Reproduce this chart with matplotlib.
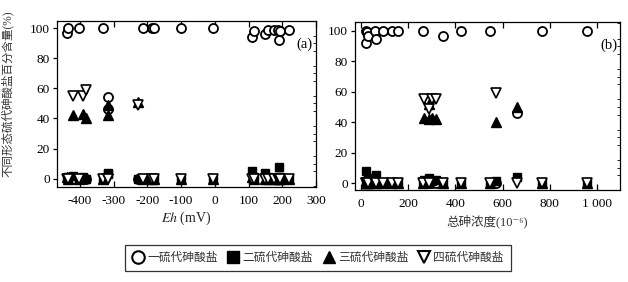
import matplotlib.pyplot as plt
import numpy as np
from matplotlib.ticker import MultipleLocator, FixedLocator

plt.rcParams['font.family'] = ['Liberation Serif', 'Noto Sans CJK SC', 'DejaVu Serif']
plt.rcParams['mathtext.fontset'] = 'stix'
plt.rcParams['axes.unicode_minus'] = False

names = ['一硫代砷酸盐', '二硫代砷酸盐', '三硫代砷酸盐', '四硫代砷酸盐']

# (a) Eh (mV) and species percentage per sample
eh = np.array([-437, -435, -420, -403, -391, -382, -332, -318, -316, -229,
               -214, -187, -181, -99, -5, 111, 116, 149, 158, 176, 188, 191, 193, 220])
eh_mono = np.array([97, 100, 0, 100, 0, 0, 100, 54, 46, 0,
                    100, 100, 100, 100, 100, 94, 98, 96, 99, 99, 99, 92, 98, 99])
eh_di = np.array([1, 0, 2, 0, 1, 0, 0, 3, 4, 0,
                  0, 0, 0, 0, 0, 5, 1, 3.5, 1, 0, 1, 8, 1, 0])
eh_tri = np.array([1, 0, 42, 0, 43, 40, 0, 42, 49, 51,
                   0, 0, 0, 0, 0, 1, 0, 0, 0, 0, 0, 0, 0, 0])
eh_tetra = np.array([0, 0, 55, 0, 55, 59, 0, 0, 0, 49,
                     0, 0, 0, 0, 0, 0, 0, 0, 0, 0, 0, 0, 0, 0])

# (b) total arsenic (10^-6) and species percentage per sample
tas = np.array([21, 22, 26, 28, 59, 64, 94, 131, 158, 265, 268, 288, 290, 300, 316,
                349, 424, 547, 572, 661, 765, 958])
tas_mono = np.array([92, 100, 99, 97, 100, 95, 100, 100, 100, 100, 0, 54, 0, 0, 0,
                     97, 100, 100, 0, 46, 100, 100])
tas_di = np.array([8, 0, 1, 3, 0, 5, 0, 0, 0, 0, 2, 3, 0, 1, 2,
                   0, 0, 0, 1, 4, 0, 0])
tas_tri = np.array([0, 0, 0, 0, 0, 0, 0, 0, 0, 0, 43, 42, 52, 43, 42,
                    0, 0, 0, 40, 50, 0, 0])
tas_tetra = np.array([0, 0, 0, 0, 0, 0, 0, 0, 0, 0, 55, 0, 49, 55, 55,
                      0, 0, 0, 59, 0, 0, 0])

fig = plt.figure(figsize=(6.28, 2.82), dpi=100)
ax1 = fig.add_axes([57/628, 1-187/282, 259/628, 166/282])
ax2 = fig.add_axes([355/628, 1-190/282, 265/628, 168/282])


def draw(ax, x, mono, di, tri, tetra):
    ax.plot(x, mono, 'o', ms=6.5, mfc='white', mec='black', mew=1.3, ls='none', zorder=3)
    ax.plot(x, di, 's', ms=5.5, mfc='black', mec='black', ls='none', zorder=4)
    ax.plot(x, tri, '^', ms=6.5, mfc='black', mec='black', ls='none', zorder=5)
    ax.plot(x, tetra, 'v', ms=6.5, mfc='white', mec='black', mew=1.2, ls='none', zorder=6)


def style(ax):
    for s in ax.spines.values():
        s.set_linewidth(0.9)
    ax.tick_params(axis='x', direction='in', length=4, width=0.9, labelsize=9.5, pad=6, top=True)
    ax.tick_params(axis='y', direction='out', length=3, width=0.9, labelsize=9.5, pad=2)
    ax.tick_params(axis='y', which='minor', direction='in', right=True, left=False, length=2, width=0.6)
    ax.yaxis.set_major_locator(FixedLocator([0, 20, 40, 60, 80, 100]))
    ax.yaxis.set_minor_locator(MultipleLocator(5))


draw(ax1, eh, eh_mono, eh_di, eh_tri, eh_tetra)
ax1.set_xlim(-468, 300)
ax1.set_ylim(-5.6, 104.9)
ax1.set_xticks([-400, -300, -200, -100, 0, 100, 200, 300])
ax1.set_xticklabels(['-400', '-300', '-200', '-100', '0', '100', '200', '300'])
style(ax1)
ax1.set_xlabel('$\\mathit{Eh}$ (mV)', fontsize=10, labelpad=2, color='#222222')
ax1.set_ylabel('不同形态硫代砷酸盐百分含量(%)', fontsize=8.3, color='#333333')
ax1.yaxis.set_label_coords(-0.165, 0.56)
ax1.text(0.985, 0.86, '(a)', transform=ax1.transAxes, ha='right', va='center', fontsize=10.5)

draw(ax2, tas, tas_mono, tas_di, tas_tri, tas_tetra)
ax2.set_xlim(-25, 1097)
ax2.set_ylim(-4.6, 105.9)
ax2.set_xticks([0, 200, 400, 600, 800, 1000])
ax2.set_xticklabels(['0', '200', '400', '600', '800', '1 000'])
style(ax2)
ax2.set_xlabel('总砷浓度(10⁻⁶)', fontsize=9, labelpad=3, color='#333333')
ax2.text(0.99, 0.86, '(b)', transform=ax2.transAxes, ha='right', va='center', fontsize=10.5)

handles = [
    plt.Line2D([], [], marker='o', ms=9, mfc='white', mec='black', mew=1.5, ls='none'),
    plt.Line2D([], [], marker='s', ms=8, mfc='black', mec='black', ls='none'),
    plt.Line2D([], [], marker='^', ms=9, mfc='black', mec='black', ls='none'),
    plt.Line2D([], [], marker='v', ms=9, mfc='white', mec='black', mew=1.5, ls='none'),
]
leg = fig.legend(handles, names, loc='center', bbox_to_anchor=(318/628, 1-258/282),
                 ncol=4, fontsize=8.5, frameon=True, fancybox=False, edgecolor='black',
                 handlelength=1.0, handletextpad=0.3, columnspacing=0.8, borderpad=0.6)
leg.get_frame().set_linewidth(0.9)
for t in leg.get_texts():
    t.set_color('#333333')

fig.savefig('out.png', dpi=100)
